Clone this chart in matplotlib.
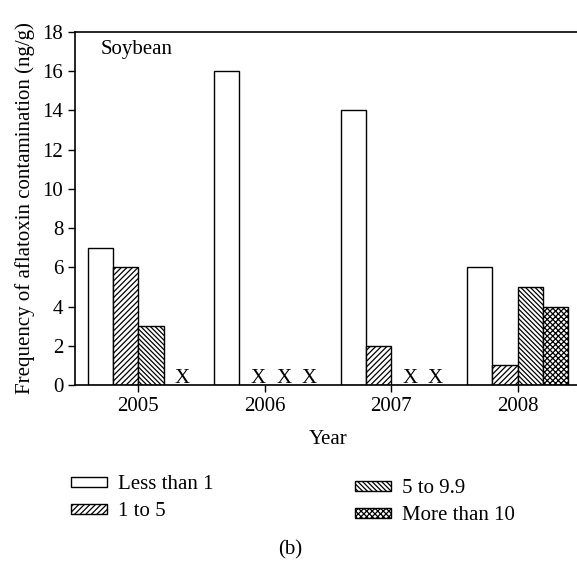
import matplotlib.pyplot as plt
import numpy as np

plt.rcParams['font.family'] = ['Liberation Serif', 'DejaVu Serif']
plt.rcParams['hatch.linewidth'] = 0.9

# Data
years = ['2005', '2006', '2007', '2008']
series_names = ['Less than 1', '1 to 5', '5 to 9.9', 'More than 10']
less_than_1 = [7, 16, 14, 6]
one_to_5 = [6, 0, 2, 1]
five_to_9 = [3, 0, 0, 5]
more_than_10 = [0, 0, 0, 4]

series = [less_than_1, one_to_5, five_to_9, more_than_10]
hatches = ['', '//////', '\\\\\\\\\\\\\\', 'xxxxxx']

x = np.arange(len(years))
width = 0.2
offsets = [-1.5, -0.5, 0.5, 1.5]
fs = 15

fig = plt.figure(figsize=(5.77, 5.64), dpi=100)
ax = fig.add_axes([75 / 577, 179 / 564, 506 / 577, 353 / 564])

handles = []
for vals, off, h, name in zip(series, offsets, hatches, series_names):
    bars = ax.bar(x + off * width, vals, width, color='white', edgecolor='black',
                  hatch=h, linewidth=1.0, label=name)
    handles.append(bars)
    # mark missing values with an X
    for xi, v in zip(x, vals):
        if v == 0:
            ax.text(xi + off * width + 0.05, -0.15, 'X', ha='center', va='bottom',
                    fontsize=fs)

ax.set_xlim(-0.5, 3.5)
ax.set_ylim(0, 18)
ax.set_yticks(np.arange(0, 19, 2))
ax.set_xticks(x)
ax.set_xticklabels(years)
ax.tick_params(axis='both', labelsize=fs, direction='out', length=5, width=1)
for s in ['left', 'bottom', 'top']:
    ax.spines[s].set_linewidth(1.2)
ax.spines['right'].set_visible(False)

ax.set_ylabel('Frequency of aflatoxin contamination (ng/g)', fontsize=fs, labelpad=5)
ax.set_xlabel('Year', fontsize=fs, labelpad=10)
ax.text(0.05, 0.95, 'Soybean', fontsize=fs, va='center', ha='left',
        transform=ax.transAxes)

# Legends below the plot
leg_kw = dict(frameon=False, fontsize=fs, handlelength=1.7, handleheight=0.35,
              labelspacing=0.38, handletextpad=0.53, borderaxespad=0)
fig.legend(handles[:2], series_names[:2], loc='upper left',
           bbox_to_anchor=(63 / 577, 1 - 467 / 564), **leg_kw)
fig.legend(handles[2:], series_names[2:], loc='upper left',
           bbox_to_anchor=(347 / 577, 1 - 471 / 564), **leg_kw)

fig.text(290 / 577, 1 - 550 / 564, '(b)', ha='center', va='center', fontsize=fs)

plt.savefig('out.png', dpi=100)
